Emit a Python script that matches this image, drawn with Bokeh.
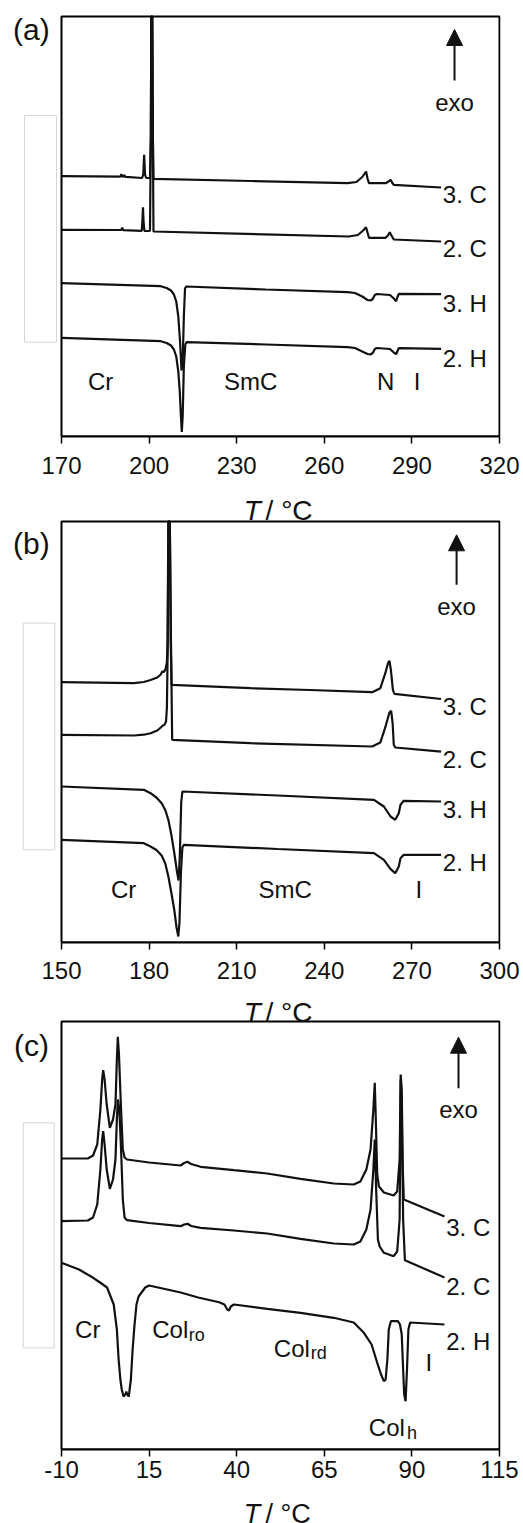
from bokeh.plotting import figure
from bokeh.models import Label, Arrow, NormalHead, BoxAnnotation, FixedTicker, Range1d
from bokeh.layouts import column
from bokeh.embed import file_html
from bokeh.resources import INLINE

FONT = "Liberation Sans"
INK = "#111111"

# ---------------- panel (a) ----------------
a_ticks = [170, 200, 230, 260, 290, 320]
a_3C_T = [170, 190.2, 190.5, 190.8, 191.1, 191.5, 191.8, 192.1, 197.6, 198.0, 198.3, 198.6, 199.0,
          200.3, 200.6, 200.75, 201.1, 201.3, 201.5, 235, 268.0, 271.0, 273.0, 274.3, 274.8, 275.3,
          281.0, 282.0, 282.7, 283.2, 283.8, 300]
a_3C_v = [260.3, 259.9, 262.5, 260, 259.8, 261.5, 259.7, 259.6, 258.5, 262, 281.7, 262, 258.5,
          258.5, 300, 420, 420, 300, 257.7, 255.5, 253.3, 254.5, 259.5, 265, 258, 253.3,
          253.3, 255, 256.7, 254, 251.7, 249]
a_2C_T = [170, 190.5, 190.8, 191.1, 197.5, 197.7, 197.9, 198.1, 198.4, 200.3, 200.6, 200.75, 201.1,
          201.3, 201.5, 268.4, 271.5, 273.3, 274.3, 274.8, 275.3, 281.0, 281.8, 282.4, 283.0, 283.8, 300]
a_2C_v = [206.7, 206.5, 209, 206.4, 205.7, 215, 229.3, 215, 205.5, 205.5, 300, 420, 420,
          300, 205, 200, 201.5, 206, 209.3, 204, 198.7, 198.7, 201, 204.3, 201, 197, 195]
a_3H_T = [170, 204, 206, 207.5, 208.5, 209.3, 210.0, 210.6, 211.1, 211.5, 211.9, 212.3, 212.7, 240,
          268, 270.5, 273, 274.8, 275.8, 276.6, 277.3, 278.0, 282.5, 283.8, 284.6, 285.0, 285.5, 300]
a_3H_v = [153.3, 150.3, 148.5, 146, 142, 135, 120, 95, 66, 75, 120, 148, 150, 147,
          144.3, 143.5, 140, 136.5, 136, 137.5, 141.5, 142.5, 141.5, 138, 135.3, 139, 142.7, 142.3]
a_2H_T = [170, 204, 206, 207.5, 208.5, 209.3, 210.0, 210.5, 210.9, 211.2, 211.5, 211.9, 212.4, 212.8,
          240, 268, 270.5, 273, 274.8, 275.8, 276.6, 277.3, 278.0, 282.5, 283.8, 284.6, 285.0, 285.5, 300]
a_2H_v = [98.7, 95.3, 93.5, 91, 87, 80, 65, 45, 20, 4.5, 20, 70, 92, 94.3,
          92, 89.3, 88.5, 85, 82.5, 82, 83.5, 87.5, 88.5, 87.5, 84, 82.3, 85, 88.3, 87.7]
a_run_labels = ["3. C", "2. C", "3. H", "2. H"]
a_run_base = [241.7, 187.7, 132.7, 77.7]
a_phases = ["Cr", "SmC", "N", "I"]
a_phase_T = [183.4, 234.8, 281.0, 291.8]

# ---------------- panel (b) ----------------
b_ticks = [150, 180, 210, 240, 270, 300]
b_3C_T = [150, 174.8, 178.2, 180.5, 182.8, 184.0, 184.5, 185.0, 185.6, 186.1, 186.3, 186.6, 187.1,
          187.4, 187.7, 214.7, 235, 256.4, 259.2, 260.9, 261.8, 262.3, 262.8, 263.5, 264.0, 280]
b_3C_v = [260.3, 259.3, 260.5, 262.5, 265, 268, 271, 270.5, 273, 280, 300, 421, 421,
          300, 257.7, 254.3, 252.5, 250.3, 254.3, 269.3, 279.3, 281.7, 272.7, 252.7, 248.7, 243.5]
b_2C_T = [150, 174.8, 178.2, 180.5, 182.8, 184.0, 184.7, 185.2, 185.8, 186.1, 186.4, 186.6, 187.1,
          187.5, 187.9, 214.7, 256.4, 259.2, 260.9, 262.3, 262.9, 263.4, 263.8, 264.3, 280]
b_2C_v = [207.7, 207, 207.8, 209.3, 212, 215, 217, 217.5, 221, 235, 300, 421, 421,
          300, 202.7, 199.3, 196, 200, 215.3, 230, 231.7, 219.3, 197.7, 195, 190.8]
b_3H_T = [150, 178.2, 180.5, 182.5, 184.3, 185.6, 186.6, 187.6, 188.6, 189.6, 190.1, 190.5, 191.0,
          191.4, 224, 257.0, 260.4, 262.7, 264.3, 265.5, 266.1, 267.2, 280]
b_3H_v = [156, 152.7, 149.3, 145, 139.3, 132, 122.7, 108, 90, 70, 62, 85, 140,
          151, 147, 142.7, 136, 126, 122.7, 129.3, 137.7, 141.7, 141]
b_2H_T = [150, 178.2, 180.5, 182.5, 184.3, 185.5, 186.6, 187.6, 188.6, 189.4, 190.0, 190.4, 190.9,
          191.4, 191.9, 224, 257.0, 260.4, 262.7, 264.3, 265.5, 266.1, 267.2, 280]
b_2H_v = [102.7, 99.3, 96, 92.5, 87, 79.4, 66, 50, 33, 15, 6, 20, 70,
          95, 97.7, 93.5, 89.3, 82.7, 73.3, 69.3, 76, 84.3, 87.7, 87.7]
b_run_labels = ["3. C", "2. C", "3. H", "2. H"]
b_run_base = [236.0, 182.7, 132.7, 80.0]
b_phases = ["Cr", "SmC", "I"]
b_phase_T = [171.3, 226.6, 272.4]

# ---------------- panel (c) ----------------
c_ticks = [-10, 15, 40, 65, 90, 115]
c_3C_T = [-10, -2.5, -1.0, 0.2, 1.1, 1.6, 1.9, 2.3, 2.9, 3.8, 4.7, 5.4, 5.8, 6.07, 6.4, 7.0, 7.5, 8.0,
          8.7, 15, 24.0, 25.0, 25.9, 27.0, 29.7, 39.2, 48.7, 58.2, 67.7, 73.4, 75.3, 77.0, 78.2, 79.0,
          79.4, 79.7, 80.1, 80.6, 82.0, 84.8, 85.8, 86.5, 86.8, 87.1, 87.4, 87.7, 99.3]
c_3C_v = [291, 291, 294, 305, 340, 370, 379.3, 370, 345, 321.6, 330, 345, 390, 412.7, 395, 340, 300, 292,
          290, 287, 284, 286.5, 287.7, 285.5, 282.7, 279.3, 276, 270.7, 266, 265, 268, 280, 300, 340,
          366.7, 330, 275, 263, 257, 254, 258, 290, 375, 360, 280, 250, 233]
c_2C_T = [-10, -2.5, -1.0, 0.2, 1.1, 1.6, 1.9, 2.3, 2.9, 3.8, 4.7, 5.4, 5.8, 6.1, 6.5, 7.0, 7.5, 8.0,
          8.7, 15, 24.0, 25.0, 26.0, 27.0, 29.7, 39.2, 48.7, 58.2, 67.7, 73.4, 75.3, 77.0, 78.2, 79.0,
          79.4, 79.8, 80.3, 80.8, 82.0, 84.8, 85.8, 86.5, 86.8, 87.1, 87.5, 88.0, 99.3]
c_2C_v = [228.3, 229, 232, 245, 280, 310, 318.3, 305, 280, 260.7, 270, 290, 330, 350, 340, 300, 250, 232,
          229.3, 226.5, 223.3, 225, 225.7, 223.5, 221.7, 219, 216, 210.7, 206, 205, 208, 220, 240, 280,
          310, 260, 210, 203, 196.7, 193.3, 198, 230, 370, 340, 230, 189.3, 172]
c_2H_T = [-10, -5.0, -1.7, 1.0, 3.0, 4.9, 5.8, 6.3, 6.8, 7.2, 7.7, 8.2, 8.5, 8.8, 9.2, 9.8, 10.3, 10.8,
          11.4, 12.0, 13.9, 15.0, 24.0, 29.0, 35.0, 36.5, 37.3, 37.8, 38.3, 39.2, 48.7, 58.2, 67.7, 73.4,
          76.3, 78.5, 80.1, 81.2, 82.0, 82.5, 83.0, 83.4, 84.0, 86.0, 86.6, 87.1, 87.5, 87.8, 88.2, 88.6,
          89.0, 89.5, 99.3]
c_2H_v = [186.7, 180, 173.3, 167, 162, 145, 120, 90, 70, 60, 53, 55, 58, 55, 53, 70, 100, 123,
          145, 153, 162, 164, 157, 152, 147.3, 145, 140, 139, 143, 145, 140.7, 136.7, 131.7, 127,
          116.7, 105, 86.7, 75, 68.3, 70, 90, 120, 128.3, 128.3, 125, 115, 80, 55, 48.3, 80,
          120, 127, 125]
c_run_labels = ["3. C", "2. C", "2. H"]
c_run_base = [221.6, 163.3, 108.3]

PX_A = 2.92    # pixels per degree, panels a and b
PX_C = 3.504   # pixels per degree, panel c


def base_fig(xr, ticks, frame_h, bottom, standoff, axis=True):
    p = figure(frame_width=500, frame_height=frame_h, x_range=Range1d(*xr), y_range=Range1d(0, frame_h),
               output_backend="svg", toolbar_location=None, y_axis_location=None,
               x_axis_location="below" if axis else None,
               min_border_left=0, min_border_right=23, min_border_top=0, min_border_bottom=bottom,
               background_fill_color="white", border_fill_color="white")
    p.xgrid.visible = False
    p.ygrid.visible = False
    p.outline_line_color = None
    if axis:
        ax = p.xaxis[0]
        ax.ticker = FixedTicker(ticks=ticks)
        ax.bounds = (ticks[0], ticks[-1])
        ax.major_label_overrides = {t: str(t) for t in ticks}
        ax.major_label_text_font = FONT
        ax.major_label_text_font_size = "24px"
        ax.major_label_text_color = INK
        ax.major_label_standoff = standoff
        ax.axis_line_color = "black"
        ax.axis_line_width = 2
        ax.major_tick_line_color = "black"
        ax.major_tick_line_width = 1.5
        ax.major_tick_in = 0
        ax.major_tick_out = 7
        ax.minor_tick_line_color = None
    return p


def frame_box(p, l, r, t):
    p.add_layout(BoxAnnotation(left=l, right=r, bottom=0, top=t, fill_alpha=0,
                               line_color="black", line_alpha=1, line_width=2))


def txt(p, x, y, s, size=24, align="left", style="normal"):
    p.add_layout(Label(x=x, y=y, text=s, text_font=FONT, text_font_size=f"{size}px",
                       text_align=align, text_baseline="alphabetic", text_font_style=style,
                       text_color=INK))


def exo(p, x, y0, y1, ybase):
    p.add_layout(Arrow(end=NormalHead(size=16, fill_color=INK, line_color=INK, line_width=1),
                       x_start=x, y_start=y0, x_end=x, y_end=y1, line_color=INK, line_width=2))
    txt(p, x, ybase, "exo", align="center")


def scale_box(p, l, r, b, t):
    p.add_layout(BoxAnnotation(left=l, right=r, bottom=b, top=t, fill_alpha=0,
                               line_color="#d6d6d6", line_alpha=1, line_width=1))


def axis_title(p, xT, xrest, ybase, size=28):
    txt(p, xT, ybase, "T", size=size, style="italic")
    txt(p, xrest, ybase, "/ °C", size=size)


LW = 2.2

# ---- (a): frame area spans the canvas from its top-left corner
xa = (170 - 61 / PX_A, 170 + 439 / PX_A)
pa = base_fig(xa, a_ticks, 436, 48, 13)
frame_box(pa, 170, 320, 420)
for T, v in [(a_3C_T, a_3C_v), (a_2C_T, a_2C_v), (a_3H_T, a_3H_v), (a_2H_T, a_2H_v)]:
    pa.line(T, v, line_color=INK, line_width=LW)
for s, yb in zip(a_run_labels, a_run_base):
    txt(pa, 300.6, yb, s)
for s, x in zip(a_phases, a_phase_T):
    txt(pa, x, 55.5, s, align="center")
exo(pa, 304.6, 356, 407, 334.3)
txt(pa, 159.7, 407, "(a)", size=30, align="center")
scale_box(pa, 157.33, 168.29, 94.3, 321)

# ---- (b)
xb = (150 - 61 / PX_A, 150 + 439 / PX_A)
pb = base_fig(xb, b_ticks, 458, 46, 12)
frame_box(pb, 150, 300, 421)
axis_title(pb, 212.4, 219.9, 432)          # title of panel (a) x axis
for T, v in [(b_3C_T, b_3C_v), (b_2C_T, b_2C_v), (b_3H_T, b_3H_v), (b_2H_T, b_2H_v)]:
    pb.line(T, v, line_color=INK, line_width=LW)
for s, yb in zip(b_run_labels, b_run_base):
    txt(pb, 280.6, yb, s)
for s, x in zip(b_phases, b_phase_T):
    txt(pb, x, 53.4, s, align="center")
exo(pb, 285.3, 357.7, 407.7, 336)
txt(pb, 139.7, 398.7, "(b)", size=30, align="center")
scale_box(pb, 136.88, 147.7, 92.7, 319.4)

# ---- (c)
xc = (-10 - 61 / PX_C, -10 + 439 / PX_C)
pc = base_fig(xc, c_ticks, 461, 38, 4)
frame_box(pc, -10, 115, 428)
axis_title(pc, 42.03, 48.2, 437)           # title of panel (b) x axis
for T, v in [(c_3C_T, c_3C_v), (c_2C_T, c_2C_v), (c_2H_T, c_2H_v)]:
    pc.line(T, v, line_color=INK, line_width=LW)
for s, yb in zip(c_run_labels, c_run_base):
    txt(pc, 99.8, yb, s)
txt(pc, -2.5, 120, "Cr", align="center")
txt(pc, 15.9, 120, "Col")
txt(pc, 26.3, 115, "ro", size=18)
txt(pc, 50.6, 100.6, "Col")
txt(pc, 61.1, 96.6, "rd", size=18)
txt(pc, 77.7, 21.6, "Col")
txt(pc, 88.6, 16.6, "h", size=18)
txt(pc, 94.8, 86.6, "I", align="center")
exo(pc, 103.3, 361.3, 412.3, 340)
txt(pc, -18.56, 404.3, "(c)", size=30, align="center")
scale_box(pc, -20.93, -12.08, 101.6, 326.6)

# ---- strip holding the x-axis title of panel (c)
pd = base_fig(xc, c_ticks, 36, 0, 0, axis=False)
axis_title(pd, 42.03, 48.2, 10, size=27)

layout = column(pa, pb, pc, pd, spacing=0)
open("out.html", "w").write(file_html(layout, INLINE))
